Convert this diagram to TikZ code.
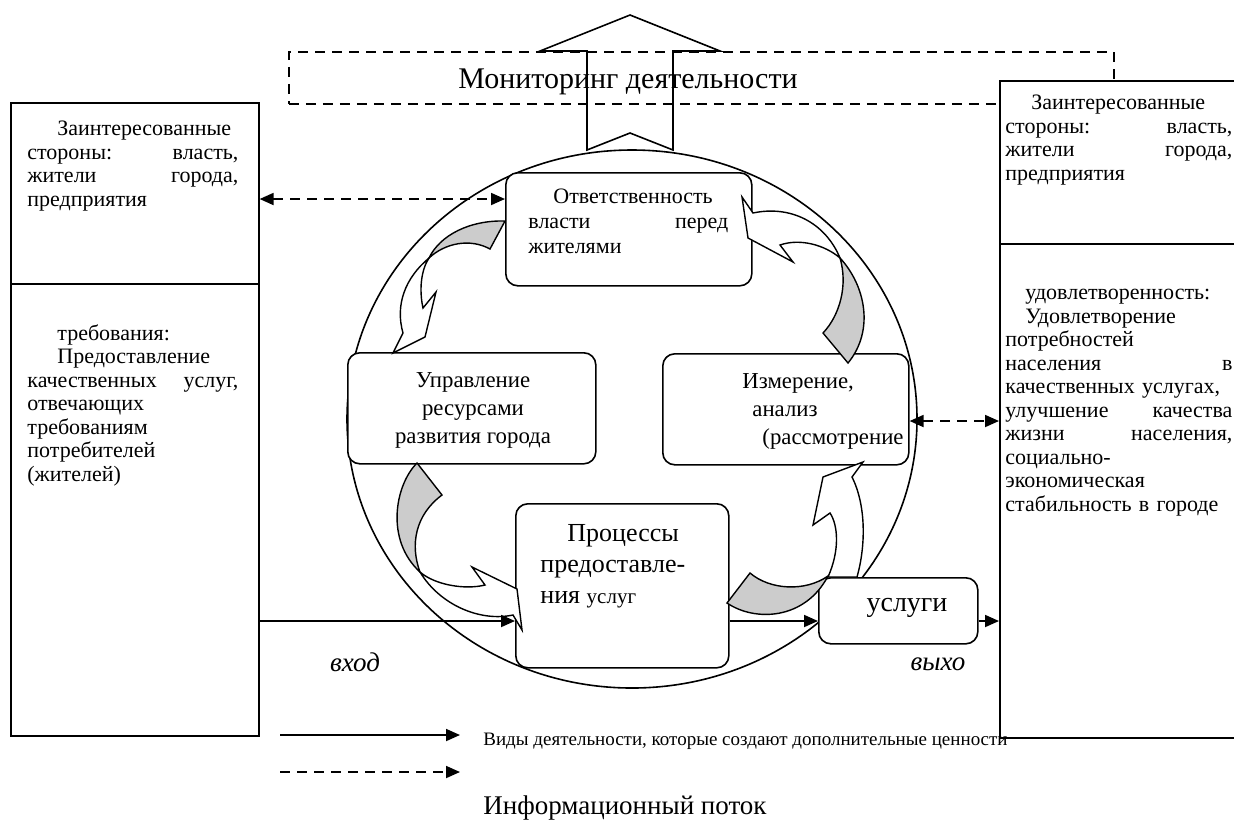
\documentclass[tikz,border=0pt]{standalone}
\usepackage{fontspec}
\setmainfont{Liberation Serif}
\usetikzlibrary{positioning, arrows.meta}

\newcommand{\sidefont}{\fontsize{11}{11.75}\selectfont}
\newcommand{\midfont}{\fontsize{11.4}{14}\selectfont}

\tikzset{
  box/.style={draw, line width=0.8pt, fill=white, inner sep=0pt, anchor=north west},
  rbox/.style={box, rounded corners=6pt},
  txt/.style={inner sep=0pt, anchor=north west, align=left},
  actarr/.style={line width=0.9pt, -{Triangle[length=7pt,width=6pt]}},
  infoarr/.style={line width=0.9pt, dash pattern=on 5pt off 3.5pt, {Triangle[length=7pt,width=6pt]}-{Triangle[length=7pt,width=6pt]}},
  infoone/.style={line width=0.9pt, dash pattern=on 5pt off 3.5pt, -{Triangle[length=7pt,width=6pt]}},
  cycgray/.style={draw, line width=0.7pt, fill=black!20},
  cycwhite/.style={draw, line width=0.7pt, fill=white},
}

\begin{document}
\begin{tikzpicture}[x=0.5pt,y=-0.5pt]
\useasboundingbox (0,0) rectangle (1234,832);

% Cycle circle
\draw[line width=0.8pt] (632,419) ellipse [x radius=285, y radius=269];

% Monitoring
\node[box, fill=none, dash pattern=on 5pt off 3.5pt, minimum width=412.5pt, minimum height=26pt] (mon) at (288,51) {};
\node[inner sep=0pt, font=\fontsize{15}{17}\selectfont] (montxt) at (628,82) {Мониторинг деятельности};
\draw[line width=0.8pt] (587,150) -- (587,51) -- (540,51) -- (630,15) -- (720,51)
  -- (673,51) -- (673,150) -- (630,133) -- cycle;

% Left side: stakeholders / requirements
\node[box, minimum width=124pt, minimum height=90.5pt] (lsh) at (10,102) {};
\node[box, minimum width=124pt, minimum height=226pt] (lreq) at (10,283) {};
\node[txt, text width=105.5pt, font=\sidefont] (lshtxt) at (27,121)
  {\hspace*{15pt}Заинтересованные\\ стороны:\hfill власть,\\ жители\hfill города,\\ предприятия};
\node[txt, text width=105.5pt, font=\sidefont] (lreqtxt) at (27,324)
  {\hspace*{15pt}требования:\\ \hspace*{15pt}Предоставление\\ качественных\hfill услуг,\\
   отвечающих\\ требованиям\\ потребителей\\ (жителей)};

% Right side: stakeholders / satisfaction
\node[box, minimum width=120.5pt, minimum height=81.5pt] (rsh) at (999,80) {};
\node[box, minimum width=120.5pt, minimum height=247pt] (rsat) at (999,243) {};
\node[txt, text width=113.5pt, font=\sidefont] (rshtxt) at (1005,95)
  {\hspace*{13pt}Заинтересованные\\ стороны:\hfill власть,\\ жители\hfill города,\\ предприятия};
\node[txt, text width=113.5pt, font=\sidefont] (rsattxt) at (1005,289)
  {\hspace*{10pt}удовлетворенность:\\ \hspace*{10pt}Удовлетворение\\ потребностей\\ населения\hfill в\\
   качественных услугах,\\ улучшение\hfill качества\\ жизни\hfill населения,\\ социально-\\
   экономическая\\ стабильность в городе};

% Process boxes
\node[rbox, minimum width=123pt, minimum height=56.5pt] (resp) at (505,172) {};
\node[txt, text width=100pt, font=\fontsize{11}{12.5}\selectfont] (resptxt) at (528,189)
  {\hspace*{12.5pt}Ответственность\\ власти\hfill перед\\ жителями};
\node[rbox, minimum width=124pt, minimum height=55.5pt] (mgmt) at (347,352) {};
\node[inner sep=0pt, align=center, anchor=north, font=\midfont] (mgmttxt) at (473,372)
  {Управление\\ ресурсами\\ развития города};
\node[rbox, minimum width=123pt, minimum height=55.5pt] (meas) at (662,353) {};
\node[txt, font=\midfont] (meastxt) at (742,373)
  {Измерение,\\ \hspace*{5pt}анализ\\ \hspace*{10pt}(рассмотрение};
\node[rbox, minimum width=106.5pt, minimum height=82pt] (proc) at (515,503) {};
\node[txt, font=\fontsize{13}{15.5}\selectfont] (proctxt) at (540,524)
  {\hspace*{13.5pt}Процессы\\ предоставле-\\ ния {\fontsize{10.5}{12}\selectfont услуг}};
\node[rbox, minimum width=79.5pt, minimum height=33pt] (serv) at (818,577) {};
\node[inner sep=0pt, font=\fontsize{14}{16}\selectfont] (servtxt) at (907,608) {услуги};

% Cycle arrows
\path[cycgray] (505,221) .. controls (470,220) and (440,235) .. (429,258)
  .. controls (445,243) and (470,238) .. (490,249) -- cycle;
\path[cycwhite] (429,258) .. controls (405,278) and (395,305) .. (403,333) -- (393,353)
  -- (425,337) -- (436,292) -- (423,308) .. controls (419,290) and (421,270) .. (429,258) -- cycle;
\path[cycwhite] (742,197) -- (753,213) .. controls (790,205) and (825,222) .. (840,258)
  .. controls (825,245) and (800,238) .. (780,245) -- (793,262) -- (748,238) -- cycle;
\path[cycgray] (840,258) .. controls (865,285) and (875,330) .. (848,363) -- (823,333)
  .. controls (840,315) and (848,285) .. (840,258) -- cycle;
\path[cycgray] (417,463) .. controls (395,485) and (385,540) .. (420,572)
  .. controls (410,545) and (415,515) .. (442,495) -- cycle;
\path[cycwhite] (420,572) .. controls (440,605) and (480,622) .. (513,615) -- (522,630)
  -- (517,589) -- (472,567) -- (485,585) .. controls (465,590) and (435,585) .. (420,572) -- cycle;
\path[cycgray] (727,603) .. controls (755,622) and (805,620) .. (828,576)
  .. controls (805,592) and (770,590) .. (750,573) -- cycle;
\path[cycwhite] (828,577) .. controls (840,550) and (838,525) .. (830,513) -- (813,525)
  -- (823,477) -- (863,462) -- (852,477) .. controls (866,505) and (866,545) .. (857,577) -- cycle;

% Flows
\draw[infoarr] (lsh.east |- 0,199) -- (resp.west |- 0,199);
\draw[infoarr] (meas.east |- 0,421) -- (rsat.west |- 0,421);
\draw[actarr] (lreq.east |- 0,621) -- (proc.west |- 0,621);
\draw[actarr] (proc.east |- 0,621) -- (serv.west |- 0,621);
\draw[actarr] (serv.east |- 0,621) -- (rsat.west |- 0,621);
\node[inner sep=0pt, font=\itshape\fontsize{13.5}{16}\selectfont] (inlbl) at (355,662) {вход};
\node[inner sep=0pt, font=\itshape\fontsize{13.5}{16}\selectfont] (outlbl) at (938,664) {выхо};

% Legend
\coordinate (lgas) at (280,735);
\coordinate (lgae) at (460,735);
\coordinate (lgbs) at (280,772);
\coordinate (lgbe) at (460,772);
\draw[actarr] (lgas) -- (lgae);
\draw[infoone] (lgbs) -- (lgbe);
\node[anchor=west, inner sep=0pt, font=\fontsize{9.5}{11}\selectfont] (lgatxt) at (483,741)
  {Виды деятельности, которые создают дополнительные ценности};
\node[anchor=west, inner sep=0pt, font=\fontsize{13.5}{16}\selectfont] (lgbtxt) at (483,808)
  {Информационный поток};
\end{tikzpicture}
\end{document}
